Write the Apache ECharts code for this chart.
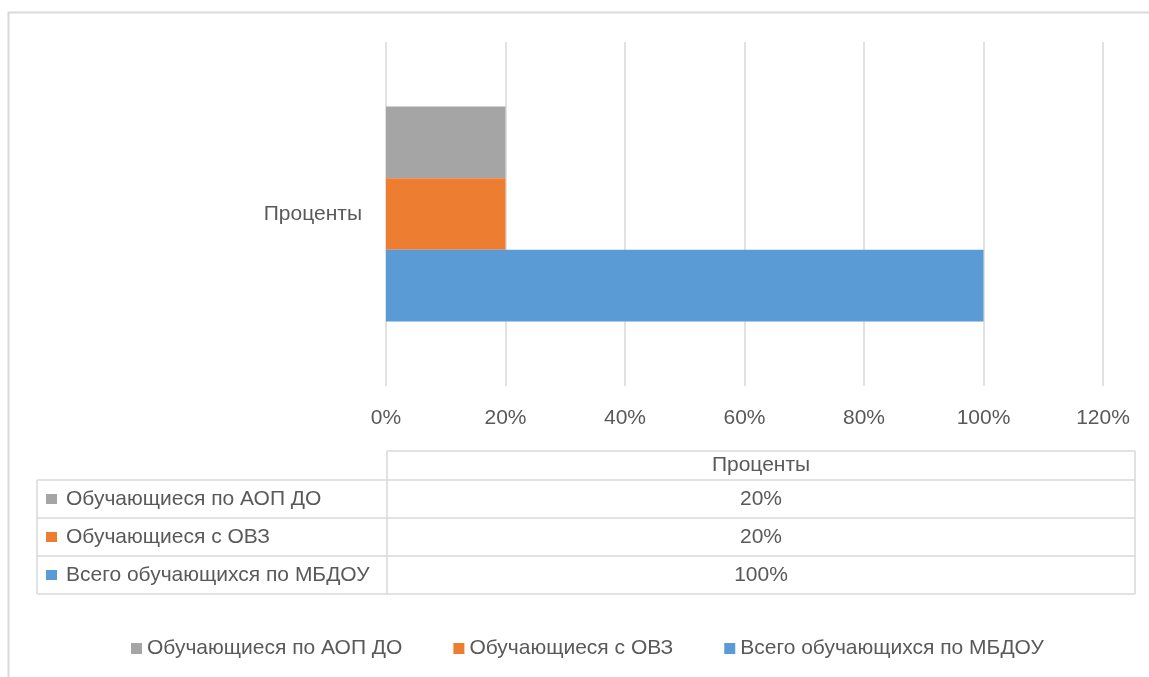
<!DOCTYPE html>
<html>
<head>
<meta charset="utf-8">
<script type="text/javascript" src="https://cdn.jsdelivr.net/npm/echarts@6/dist/echarts.min.js"></script>
<style>html,body{margin:0;padding:0;background:#fff;}</style>
</head>
<body>
<div id="main" style="width:1149px;height:677px;"></div>
<script type="text/javascript">
// данные диаграммы
var categories = ['Проценты'];
var seriesNames = ['Обучающиеся по АОП ДО', 'Обучающиеся с ОВЗ', 'Всего обучающихся по МБДОУ'];
var seriesValues = [[20], [20], [100]];
var seriesColors = ['#a5a5a5', '#ed7d31', '#5b9bd5'];
var axisMin = 0, axisMax = 120, axisStep = 20;

var myChart = echarts.init(document.getElementById('main'));
var font = 'Liberation Sans';
var fsize = 21;
var txtColor = '#595959';
var lineColor = '#d9d9d9';

// таблица данных под осью
var tblLeft = 37, tblMid = 387, tblRight = 1135;
var tblTop = 451, headH = 29, rowH = 38;
var graphic = [];
graphic.push({
    type: 'rect', silent: true,
    shape: {x: 8.5, y: 12.5, width: 1300, height: 800},
    style: {fill: 'none', stroke: lineColor, lineWidth: 2}
});
function hline(x1, x2, y) {
    graphic.push({type: 'line', silent: true, shape: {x1: x1, y1: y, x2: x2, y2: y},
        style: {stroke: lineColor, lineWidth: 1.5}});
}
function vline(x, y1, y2) {
    graphic.push({type: 'line', silent: true, shape: {x1: x, y1: y1, x2: x, y2: y2},
        style: {stroke: lineColor, lineWidth: 1.5}});
}
var tblBottom = tblTop + headH + rowH * seriesNames.length;
hline(tblMid, tblRight, tblTop);
for (var r = 0; r <= seriesNames.length; r++) {
    hline(tblLeft, tblRight, tblTop + headH + rowH * r);
}
vline(tblLeft, tblTop + headH, tblBottom);
vline(tblMid, tblTop, tblBottom);
vline(tblRight, tblTop, tblBottom);
var cssFont = fsize + 'px "' + font + '"';
graphic.push({
    type: 'text', silent: true, x: (tblMid + tblRight) / 2, y: tblTop + headH / 2,
    style: {text: categories[0], fill: txtColor, font: cssFont, align: 'center', verticalAlign: 'middle'}
});
seriesNames.forEach(function (name, i) {
    var cy = tblTop + headH + rowH * i + rowH / 2;
    graphic.push({type: 'rect', silent: true, shape: {x: 46, y: cy - 5, width: 11, height: 10},
        style: {fill: seriesColors[i]}});
    graphic.push({type: 'text', silent: true, x: 66, y: cy,
        style: {text: name, fill: txtColor, font: cssFont, verticalAlign: 'middle'}});
    graphic.push({type: 'text', silent: true, x: (tblMid + tblRight) / 2, y: cy,
        style: {text: seriesValues[i][0] + '%', fill: txtColor, font: cssFont, align: 'center', verticalAlign: 'middle'}});
});

var option = {
    backgroundColor: '#fff',
    animation: false,
    textStyle: {fontFamily: font},
    grid: {left: 386, right: 46, top: 42, bottom: 291},
    legend: {
        top: 633,
        left: 126,
        data: seriesNames,
        icon: 'rect',
        itemWidth: 11,
        itemHeight: 11,
        itemGap: 51,
        textStyle: {color: txtColor, fontSize: fsize, fontFamily: font}
    },
    xAxis: {
        type: 'value',
        min: axisMin,
        max: axisMax,
        interval: axisStep,
        axisLine: {show: false},
        axisTick: {show: false},
        axisLabel: {formatter: '{value}%', color: txtColor, fontSize: fsize, margin: 22},
        splitLine: {lineStyle: {color: lineColor, width: 1.5}}
    },
    yAxis: {
        type: 'category',
        data: categories,
        axisLine: {show: false},
        axisTick: {show: false},
        axisLabel: {color: txtColor, fontSize: fsize, margin: 24}
    },
    series: seriesNames.map(function (name, i) {
        return {
            name: name,
            type: 'bar',
            data: seriesValues[i],
            barGap: '0%',
            barCategoryGap: '37.5%',
            itemStyle: {color: seriesColors[i]}
        };
    }),
    graphic: graphic
};
myChart.setOption(option);
</script>
</body>
</html>
